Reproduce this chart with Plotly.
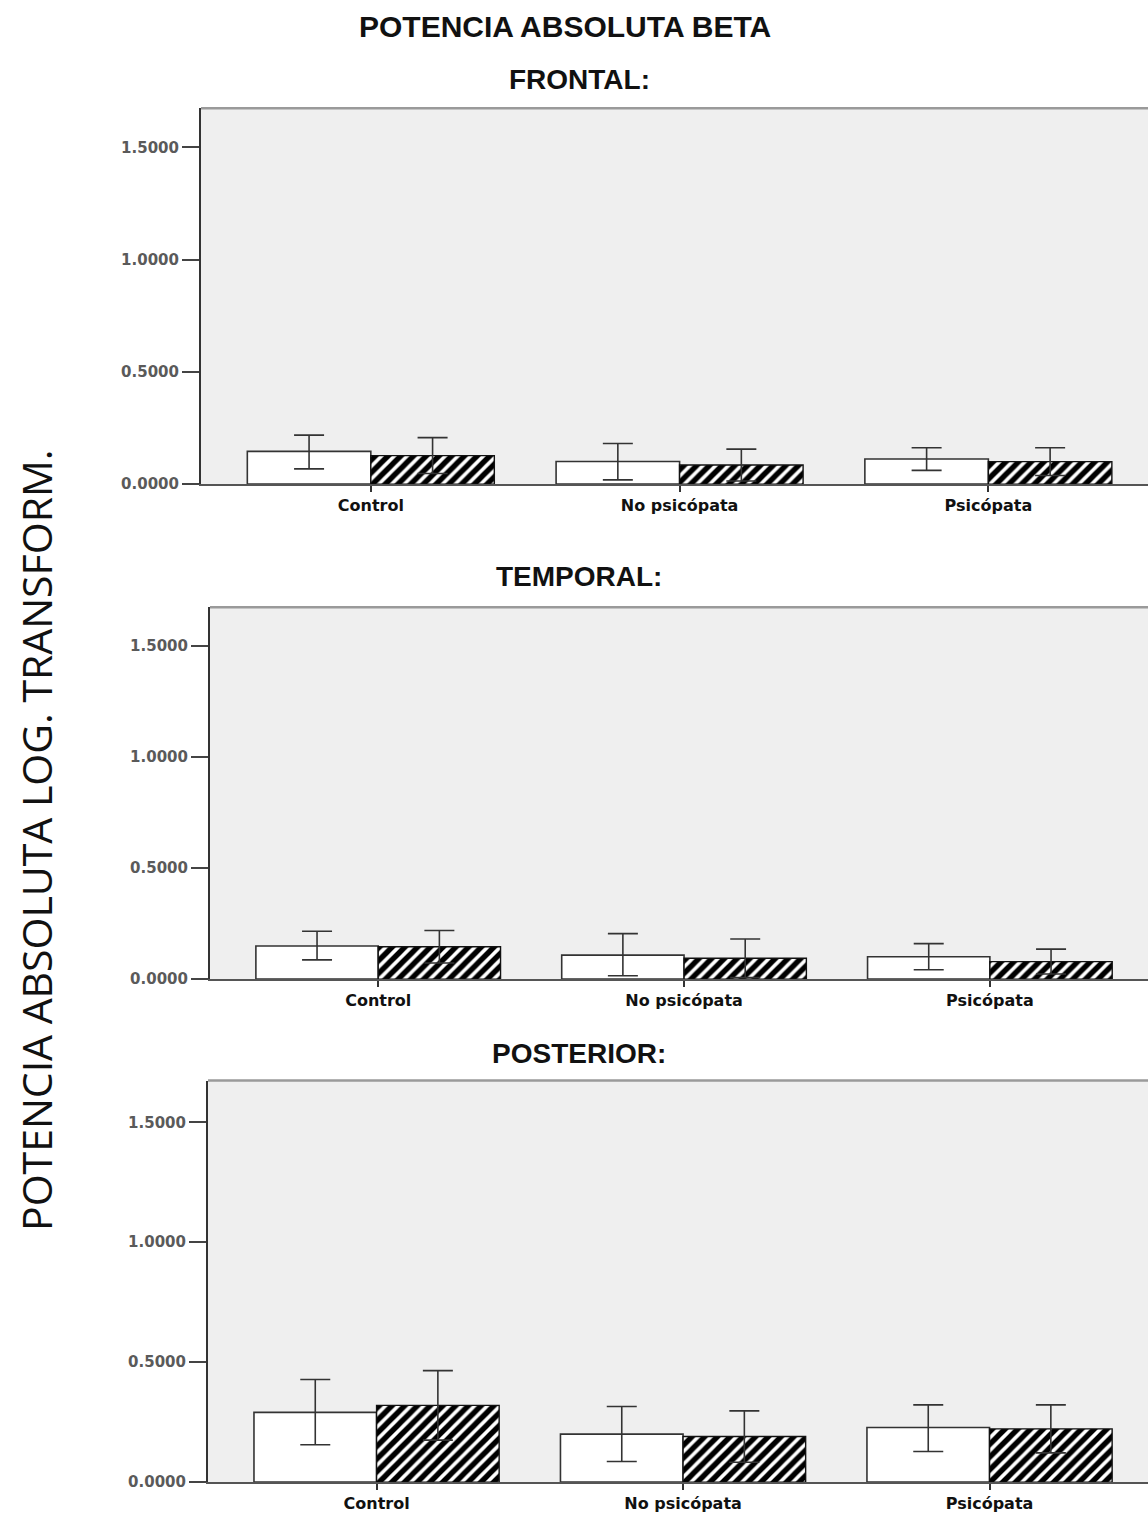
import plotly.graph_objects as go

categories = ["Control", "No psicópata", "Psicópata"]

# FRONTAL
frontal_white = [0.146, 0.101, 0.112]
frontal_white_hi = [0.218, 0.181, 0.162]
frontal_white_lo = [0.068, 0.019, 0.061]
frontal_hatch = [0.127, 0.085, 0.100]
frontal_hatch_hi = [0.207, 0.156, 0.162]
frontal_hatch_lo = [0.047, 0.014, 0.038]

# TEMPORAL
temporal_white = [0.149, 0.108, 0.101]
temporal_white_hi = [0.216, 0.205, 0.160]
temporal_white_lo = [0.087, 0.015, 0.042]
temporal_hatch = [0.146, 0.094, 0.079]
temporal_hatch_hi = [0.219, 0.181, 0.135]
temporal_hatch_lo = [0.073, 0.007, 0.023]

# POSTERIOR
posterior_white = [0.291, 0.200, 0.228]
posterior_white_hi = [0.428, 0.315, 0.322]
posterior_white_lo = [0.156, 0.086, 0.128]
posterior_hatch = [0.320, 0.190, 0.222]
posterior_hatch_hi = [0.465, 0.297, 0.322]
posterior_hatch_lo = [0.175, 0.083, 0.122]

y_tickvals = [0.0, 0.5, 1.0, 1.5]

panels = [
    ("FRONTAL:", frontal_white, frontal_white_hi, frontal_white_lo,
     frontal_hatch, frontal_hatch_hi, frontal_hatch_lo),
    ("TEMPORAL:", temporal_white, temporal_white_hi, temporal_white_lo,
     temporal_hatch, temporal_hatch_hi, temporal_hatch_lo),
    ("POSTERIOR:", posterior_white, posterior_white_hi, posterior_white_lo,
     posterior_hatch, posterior_hatch_hi, posterior_hatch_lo),
]

W, H = 1148, 1515
# pixel layout of each panel: (left, top, bottom)
panel_px = [(201, 109, 487), (210, 611, 985), (208, 1087, 1491)]
subtitle_y_px = [80, 580, 1060]

fig = go.Figure()

def err(vals, hi, lo):
    return dict(type="data", symmetric=False,
                array=[h - v for v, h in zip(vals, hi)],
                arrayminus=[v - l for v, l in zip(vals, lo)],
                color="#333333", thickness=1.6, width=15)

for i, (name, wv, whi, wlo, hv, hhi, hlo) in enumerate(panels):
    sfx = "" if i == 0 else str(i + 1)
    fig.add_trace(go.Bar(
        x=categories, y=wv, xaxis="x" + sfx, yaxis="y" + sfx,
        marker=dict(color="white", line=dict(color="#333333", width=1.6)),
        error_y=err(wv, whi, wlo), showlegend=False, offsetgroup="a"))
    fig.add_trace(go.Bar(
        x=categories, y=hv, xaxis="x" + sfx, yaxis="y" + sfx,
        marker=dict(color="white", line=dict(color="#111111", width=1.4),
                    pattern=dict(shape="/", fgcolor="#000000", bgcolor="white",
                                 fgopacity=1, fillmode="replace",
                                 size=9, solidity=0.6)),
        error_y=err(hv, hhi, hlo), showlegend=False, offsetgroup="b"))

layout = dict(
    width=W, height=H,
    margin=dict(l=0, r=0, t=0, b=0),
    paper_bgcolor="white",
    plot_bgcolor="#efefef",
    barmode="group", bargap=0.2, bargroupgap=0.0,
    font=dict(family="Liberation Sans, Arial, sans-serif"),
)

annotations = []
shapes = []
for i, (left, top, bottom) in enumerate(panel_px):
    sfx = "" if i == 0 else str(i + 1)
    xa = "xaxis" + sfx
    ya = "yaxis" + sfx
    layout[xa] = dict(
        domain=[left / W, 1.0], anchor="y" + sfx,
        type="category", range=[-0.55, 2.517],
        showline=True, linecolor="#555555", linewidth=1.6,
        ticks="outside", ticklen=6, tickcolor="#333333", tickwidth=1.5,
        ticklabelstandoff=0,
        tickfont=dict(family="DejaVu Sans", size=16, color="#111111", weight="bold"),
        showgrid=False, zeroline=False, fixedrange=True,
    )
    layout[ya] = dict(
        domain=[1 - bottom / H, 1 - top / H], anchor="x" + sfx,
        range=[0, 1.674], tickvals=y_tickvals, tickformat=".4f",
        showline=True, linecolor="#333333", linewidth=2,
        ticks="outside", ticklen=17, tickcolor="#444444", tickwidth=1.5,
        tickfont=dict(family="DejaVu Sans", size=15, color="#5a5a5a", weight="bold"),
        showgrid=False, zeroline=False, fixedrange=True,
    )
    shapes.append(dict(type="line", xref="x" + sfx + " domain", yref="y" + sfx + " domain",
                       x0=0, x1=1, y0=1, y1=1,
                       line=dict(color="#9a9a9a", width=2.5)))
    annotations.append(dict(
        text="<b>" + panels[i][0] + "</b>", xref="paper", yref="paper",
        x=579 / W, y=1 - subtitle_y_px[i] / H, showarrow=False,
        xanchor="center", yanchor="middle",
        font=dict(family="Liberation Sans, Arial", size=28, color="#111111")))

annotations.append(dict(
    text="<b>POTENCIA ABSOLUTA BETA</b>", xref="paper", yref="paper",
    x=565 / W, y=1 - 27 / H, showarrow=False, xanchor="center", yanchor="middle",
    font=dict(family="Liberation Sans, Arial", size=30, color="#111111")))
annotations.append(dict(
    text="POTENCIA ABSOLUTA LOG. TRANSFORM.", xref="paper", yref="paper",
    x=36 / W, y=1 - 845 / H, showarrow=False, textangle=-90,
    xanchor="center", yanchor="middle",
    font=dict(family="Open Sans", size=41, color="#111111")))

layout["annotations"] = annotations
layout["shapes"] = shapes
fig.update_layout(**layout)

fig.write_html("out.html")
